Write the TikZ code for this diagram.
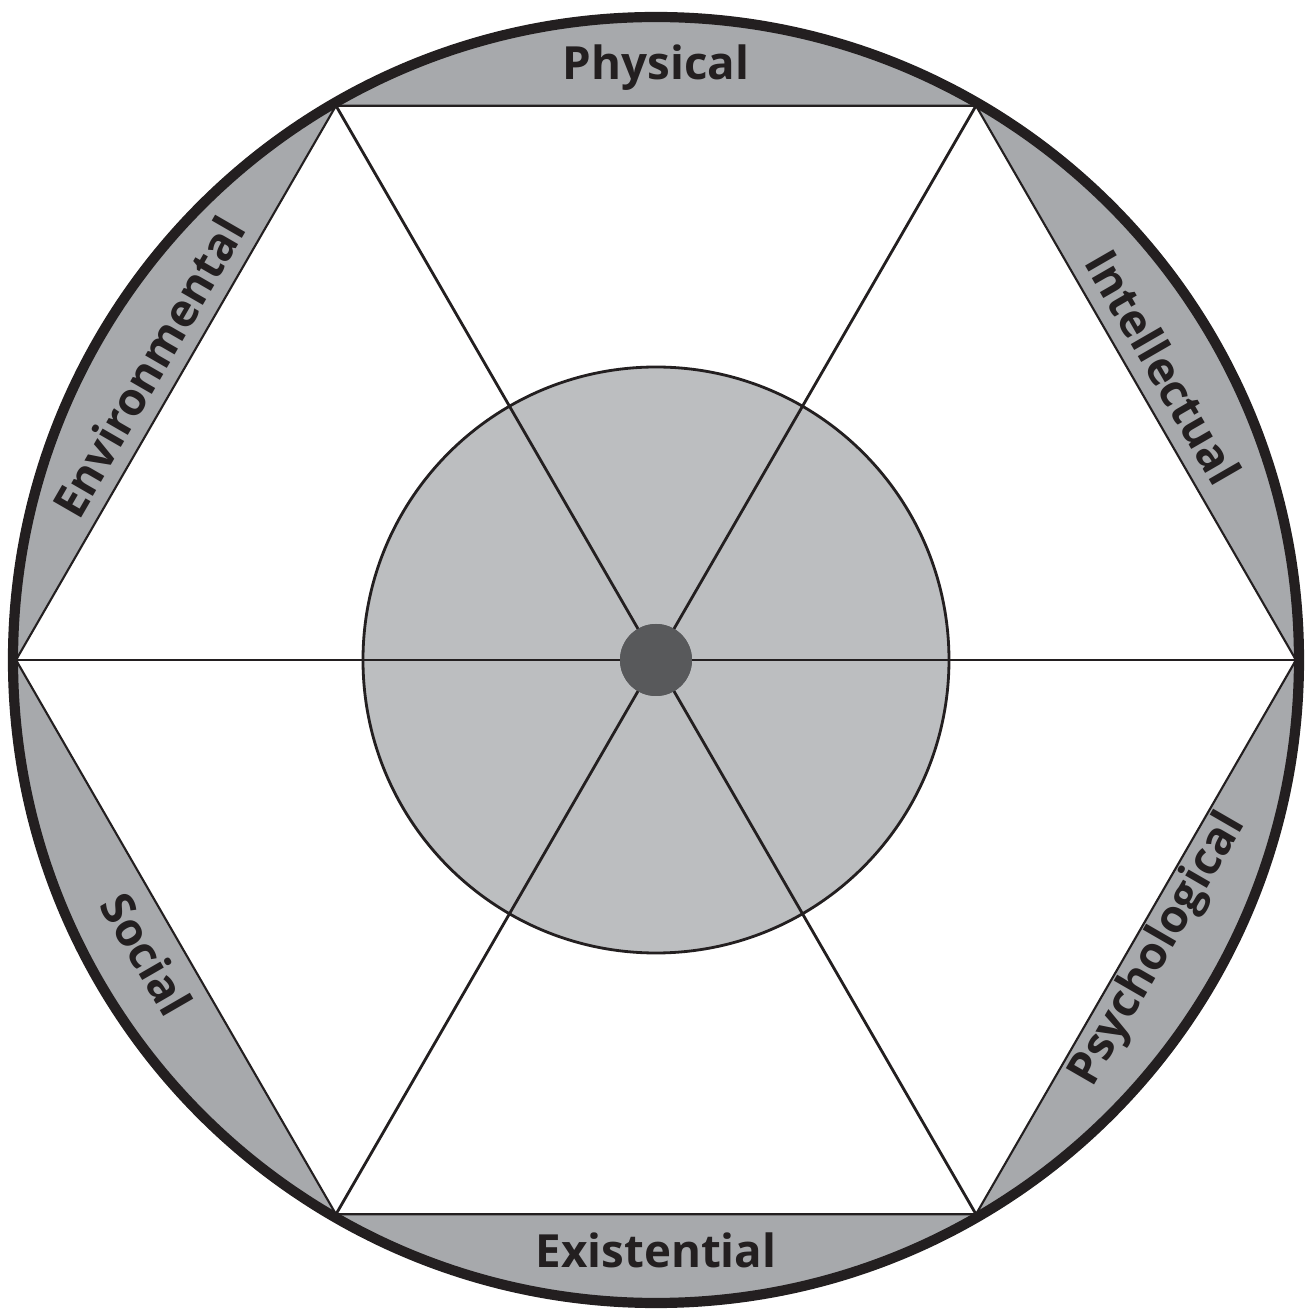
\documentclass[tikz,border=0pt]{standalone}
\usepackage{fontspec}
\setmainfont{Open Sans}
\usepackage{xcolor}
\usepackage{tikz}
\usetikzlibrary{positioning, calc}
\definecolor{wheelink}{HTML}{231F20}
\definecolor{wheelrim}{HTML}{A7A9AC}
\definecolor{wheelcore}{HTML}{BCBEC0}
\definecolor{wheelhub}{HTML}{58595B}

\begin{document}
\begin{tikzpicture}[
  x=1cm, y=1cm,
  rimlabel/.style={font=\bfseries\fontsize{13}{15}\selectfont, text=wheelink, inner sep=0pt},
  spoke/.style={wheelink, line width=0.8pt},
  edge/.style={wheelink, line width=0.6pt}
]
\useasboundingbox (-6.56,-6.50) rectangle (6.56,6.60);

% vertices of the hexagon
\coordinate (v0) at (0:6.40);
\coordinate (v1) at (60:6.40);
\coordinate (v2) at (120:6.40);
\coordinate (v3) at (180:6.40);
\coordinate (v4) at (240:6.40);
\coordinate (v5) at (300:6.40);

\fill[wheelrim] (0,0) circle (6.43);
\fill[white] (v0) -- (v1) -- (v2) -- (v3) -- (v4) -- (v5) -- cycle;
\draw[edge] (v0) -- (v1) -- (v2) -- (v3) -- (v4) -- (v5) -- cycle;

\node[circle, draw=wheelink, line width=0.8pt, fill=wheelcore, minimum size=5.86cm, inner sep=0pt] (core) at (0,0) {};
\node[circle, fill=wheelhub, minimum size=0.72cm, inner sep=0pt] (hub) at (0,0) {};

\draw[spoke] (hub.center) -- (v0);
\draw[spoke] (hub.center) -- (v1);
\draw[spoke] (hub.center) -- (v2);
\draw[spoke] (hub.center) -- (v3);
\draw[spoke] (hub.center) -- (v4);
\draw[spoke] (hub.center) -- (v5);
\node[circle, fill=wheelhub, minimum size=0.72cm, inner sep=0pt] at (hub) {};

\draw[wheelink, line width=2.9pt] (0,0) circle (6.43);

\node[rimlabel] (physical) at (90:5.92) {Physical};
\node[rimlabel, rotate=-60] (intellectual) at (30:5.86) {Intellectual};
\node[rimlabel, rotate=60] (psychological) at (-30:5.80) {Psychological};
\node[rimlabel] (existential) at (-90:5.90) {Existential};
\node[rimlabel, rotate=-60] (social) at (210:5.88) {Social};
\node[rimlabel, rotate=60] (environmental) at (150:5.86) {Environmental};
\end{tikzpicture}
\end{document}
